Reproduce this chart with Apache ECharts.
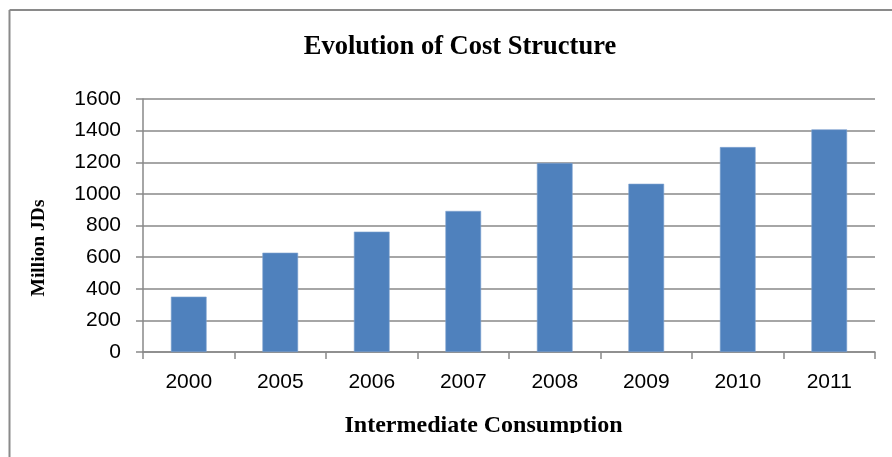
<!DOCTYPE html>
<html>
<head>
<meta charset="utf-8">
<script src="https://cdn.jsdelivr.net/npm/echarts@6/dist/echarts.min.js"></script>
<style>html,body{margin:0;padding:0;background:#fff;}#c{width:892px;height:457px;}</style>
</head>
<body>
<div id="c"></div>
<script>
const categories = ['2000', '2005', '2006', '2007', '2008', '2009', '2010', '2011'];
const values = [350, 628, 761, 892, 1195, 1064, 1296, 1408];
const yTicks = [0, 200, 400, 600, 800, 1000, 1200, 1400, 1600];
const titleText = 'Evolution of Cost Structure';
const xName = 'Intermediate Consumption';
const yName = 'Million JDs';

const chart = echarts.init(document.getElementById('c'), null, {renderer: 'canvas'});
const gray = '#898989';
chart.setOption({
  animation: false,
  backgroundColor: '#fff',
  title: {
    text: titleText,
    left: 455, top: 29, textAlign: 'center',
    textStyle: {fontFamily: 'Liberation Serif', fontWeight: 'bold', fontSize: 26.5, color: '#000'}
  },
  grid: {left: 143, right: 17, top: 99, bottom: 105, containLabel: false},
  xAxis: {
    type: 'category',
    data: categories,
    name: xName,
    nameLocation: 'middle',
    nameGap: 62,
    nameTextStyle: {fontFamily: 'Liberation Serif', fontWeight: 'bold', fontSize: 24, color: '#000', padding: [0, 51, 0, 0]},
    axisLine: {lineStyle: {color: gray, width: 1.5}},
    axisTick: {show: true, length: 7, alignWithLabel: false, lineStyle: {color: gray, width: 1.5}},
    axisLabel: {fontFamily: 'Liberation Sans', fontSize: 21, color: '#000', margin: 20}
  },
  yAxis: {
    type: 'value',
    min: yTicks[0], max: yTicks[yTicks.length - 1], interval: yTicks[1] - yTicks[0],
    axisLine: {show: true, lineStyle: {color: gray, width: 1.5}},
    axisTick: {show: true, length: 7, lineStyle: {color: gray, width: 1.5}},
    splitLine: {lineStyle: {color: gray, width: 1.5}},
    axisLabel: {fontFamily: 'Liberation Sans', fontSize: 21, color: '#000', margin: 22,
                formatter: function (v) { return String(v); }}
  },
  series: [{
    type: 'bar',
    data: values,
    barCategoryGap: '61%',
    itemStyle: {color: '#4F81BD', borderColor: '#7FA3D0', borderWidth: 0.6}
  }],
  graphic: [
    {type: 'rect', shape: {x: 11, y: 433, width: 881, height: 24}, style: {fill: '#fff'}, z: 100},
    {type: 'line', shape: {x1: 9.5, y1: 10, x2: 892, y2: 10}, style: {stroke: '#8a8a8a', lineWidth: 2}, z: 101},
    {type: 'line', shape: {x1: 9.5, y1: 10, x2: 9.5, y2: 457}, style: {stroke: '#8a8a8a', lineWidth: 2}, z: 101},
    {type: 'text', x: 39, y: 248, rotation: Math.PI / 2,
     style: {text: yName, font: 'bold 19.5px "Liberation Serif"', fill: '#000', align: 'center', verticalAlign: 'middle'}}
  ]
});
</script>
</body>
</html>
